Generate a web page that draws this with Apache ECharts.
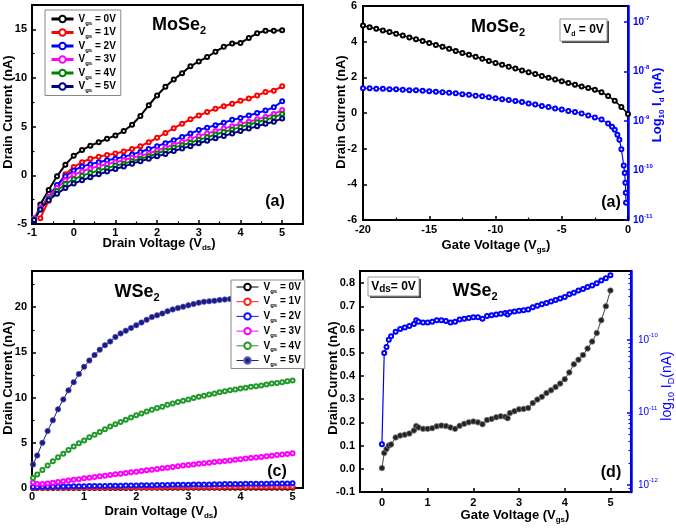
<!DOCTYPE html>
<html><head><meta charset="utf-8">
<script src="https://cdn.jsdelivr.net/npm/echarts@6/dist/echarts.min.js"></script>
<style>html,body{margin:0;padding:0;background:#fff}#c{width:676px;height:528px}</style>
</head><body><div id="c"></div>
<script>
// ---------- DATA ----------
// (a) MoSe2 output curves, Drain Voltage (V) vs Drain Current (nA)
const xA = [-0.95,-0.8,-0.6,-0.4,-0.2,0,0.2,0.4,0.6,0.8,1.0,1.2,1.4,1.6,1.8,2.0,2.2,2.4,2.6,2.8,3.0,3.2,3.4,3.6,3.8,4.0,4.2,4.4,4.6,4.8,5.0];
const aVgs0 = [-4.8,-3.0,-1.5,-0.1,1.1,2.0,2.6,3.05,3.4,3.75,4.1,4.55,5.2,6.1,7.2,8.2,9.1,9.85,10.5,11.2,11.7,12.15,12.7,13.2,13.55,13.6,14.1,14.6,14.85,14.85,14.9];
const aVgs1 = [null,-4.4,-2.6,-1.1,0.1,0.85,1.35,1.7,1.9,2.1,2.25,2.45,2.7,3.0,3.4,3.85,4.35,4.85,5.3,5.75,6.15,6.5,6.85,7.1,7.35,7.65,7.9,8.2,8.55,8.7,9.15];
const aVgs2 = [-4.6,-3.4,-2.2,-1.0,-0.1,0.5,0.9,1.15,1.35,1.55,1.7,1.9,2.15,2.4,2.7,3.0,3.3,3.6,3.95,4.3,4.65,4.9,5.15,5.4,5.7,5.9,6.15,6.4,6.65,7.0,7.6];
const aVgs3 = [-4.4,-3.3,-2.2,-1.3,-0.5,0.05,0.4,0.7,0.95,1.15,1.35,1.55,1.8,2.0,2.25,2.55,2.85,3.15,3.45,3.75,4.05,4.3,4.55,4.8,5.05,5.3,5.5,5.75,6.0,6.3,6.7];
const aVgs4 = [-4.5,-3.5,-2.4,-1.6,-0.9,-0.4,-0.05,0.25,0.5,0.75,1.0,1.2,1.45,1.7,1.95,2.25,2.55,2.85,3.1,3.35,3.65,3.9,4.2,4.45,4.7,4.95,5.2,5.45,5.7,5.95,6.3];
const aVgs5 = [-4.6,-3.5,-2.55,-1.9,-1.3,-0.85,-0.5,-0.2,0.1,0.4,0.65,0.9,1.2,1.45,1.7,1.95,2.2,2.5,2.75,3.0,3.3,3.55,3.8,4.05,4.3,4.55,4.8,5.05,5.3,5.5,5.85];

// (b) MoSe2 transfer, Vd = 0V
const xB = [-20,-19.5,-19,-18.5,-18,-17.5,-17,-16.5,-16,-15.5,-15,-14.5,-14,-13.5,-13,-12.5,-12,-11.5,-11,-10.5,-10,-9.5,-9,-8.5,-8,-7.5,-7,-6.5,-6,-5.5,-5,-4.5,-4,-3.5,-3,-2.5,-2,-1.5,-1,-0.5,0];
const bDrain = [4.90,4.81,4.72,4.63,4.54,4.44,4.34,4.24,4.14,4.04,3.93,3.82,3.71,3.60,3.48,3.37,3.26,3.15,3.04,2.92,2.81,2.70,2.60,2.49,2.39,2.28,2.18,2.08,1.98,1.88,1.78,1.68,1.58,1.49,1.40,1.30,1.16,0.96,0.68,0.34,-0.05];
const xBlog = [-20,-19.5,-19,-18.5,-18,-17.5,-17,-16.5,-16,-15.5,-15,-14.5,-14,-13.5,-13,-12.5,-12,-11.5,-11,-10.5,-10,-9.5,-9,-8.5,-8,-7.5,-7,-6.5,-6,-5.5,-5,-4.5,-4,-3.5,-3,-2.5,-2,-1.5,-1.2,-1.0,-0.8,-0.65,-0.5,-0.32,-0.25,-0.2,-0.17,-0.15];
const bLog10Id = [-8.34,-8.34,-8.35,-8.35,-8.36,-8.36,-8.37,-8.38,-8.38,-8.39,-8.40,-8.41,-8.42,-8.43,-8.44,-8.46,-8.47,-8.49,-8.50,-8.52,-8.54,-8.56,-8.58,-8.60,-8.62,-8.65,-8.67,-8.70,-8.72,-8.75,-8.77,-8.80,-8.82,-8.85,-8.89,-8.93,-8.97,-9.05,-9.12,-9.18,-9.28,-9.38,-9.57,-9.9,-10.05,-10.25,-10.45,-10.65];

// (c) WSe2 output curves
const xC = [0.02,0.1,0.2,0.3,0.4,0.5,0.6,0.7,0.8,0.9,1.0,1.1,1.2,1.3,1.4,1.5,1.6,1.7,1.8,1.9,2.0,2.1,2.2,2.3,2.4,2.5,2.6,2.7,2.8,2.9,3.0,3.1,3.2,3.3,3.4,3.5,3.6,3.7,3.8,3.9,4.0,4.1,4.2,4.3,4.4,4.5,4.6,4.7,4.8,4.9,5.0];
const cVgs0 = [0.01,0.01,0.01,0.01,0.01,0.01,0.01,0.01,0.01,0.01,0.01,0.01,0.01,0.01,0.01,0.01,0.01,0.01,0.01,0.01,0.02,0.02,0.02,0.02,0.02,0.02,0.02,0.02,0.02,0.02,0.02,0.02,0.02,0.02,0.02,0.02,0.02,0.02,0.02,0.02,0.03,0.03,0.03,0.03,0.03,0.03,0.03,0.03,0.03,0.03,0.03];
const cVgs1 = [0.02,0.02,0.02,0.03,0.03,0.03,0.04,0.04,0.04,0.05,0.05,0.05,0.06,0.06,0.06,0.07,0.07,0.07,0.08,0.08,0.08,0.08,0.09,0.09,0.09,0.1,0.1,0.1,0.1,0.11,0.11,0.11,0.11,0.12,0.12,0.12,0.12,0.13,0.13,0.13,0.13,0.13,0.14,0.14,0.14,0.14,0.14,0.15,0.15,0.15,0.15];
const cVgs2 = [0.12,0.12,0.13,0.14,0.15,0.16,0.16,0.17,0.18,0.19,0.2,0.21,0.22,0.22,0.23,0.24,0.25,0.26,0.27,0.28,0.29,0.3,0.3,0.31,0.32,0.33,0.34,0.35,0.35,0.36,0.37,0.38,0.39,0.4,0.4,0.41,0.42,0.43,0.44,0.44,0.45,0.46,0.46,0.47,0.48,0.48,0.49,0.5,0.5,0.51,0.52];
const cVgs3 = [0.6,0.45,0.45,0.5,0.58,0.66,0.74,0.82,0.9,0.98,1.07,1.14,1.21,1.29,1.36,1.44,1.51,1.58,1.66,1.73,1.8,1.88,1.95,2.03,2.1,2.18,2.25,2.33,2.4,2.48,2.55,2.61,2.68,2.74,2.8,2.87,2.93,2.99,3.05,3.12,3.18,3.25,3.31,3.38,3.44,3.51,3.58,3.64,3.71,3.77,3.84];
const cVgs4 = [1.1,1.5,2.0,2.5,2.95,3.4,3.8,4.2,4.6,4.95,5.25,5.6,5.9,6.2,6.5,6.8,7.05,7.3,7.55,7.8,8.05,8.25,8.45,8.65,8.85,9.0,9.2,9.35,9.5,9.65,9.8,9.95,10.1,10.2,10.35,10.45,10.6,10.7,10.8,10.9,11.0,11.1,11.2,11.25,11.35,11.45,11.55,11.6,11.7,11.8,11.9];
const cVgs5 = [2.6,3.6,5.0,6.3,7.5,8.7,9.8,10.8,11.7,12.6,13.4,14.1,14.7,15.3,15.8,16.2,16.7,17.1,17.4,17.7,18.0,18.3,18.6,18.9,19.1,19.3,19.55,19.75,19.9,20.05,20.2,20.35,20.5,20.6,20.65,20.7,20.8,20.85,20.9,20.9,20.95,21.0,21.0,21.05,21.05,21.1,21.1,21.1,21.15,21.15,21.2];

// (d) WSe2 transfer, Vds = 0V
const xD = [0,0.05,0.1,0.15,0.2,0.3,0.4,0.5,0.6,0.7,0.75,0.8,0.9,1.0,1.1,1.2,1.3,1.4,1.5,1.6,1.7,1.8,1.9,2.0,2.1,2.2,2.3,2.4,2.5,2.6,2.7,2.75,2.8,2.9,3.0,3.1,3.2,3.3,3.4,3.5,3.6,3.7,3.8,3.9,4.0,4.1,4.2,4.3,4.4,4.5,4.6,4.7,4.8,4.9,5.0];
const dDrain = [0.003,0.068,0.085,0.1,0.105,0.135,0.143,0.147,0.152,0.165,0.184,0.178,0.172,0.172,0.175,0.183,0.186,0.184,0.178,0.172,0.185,0.194,0.2,0.204,0.2,0.192,0.21,0.215,0.222,0.226,0.224,0.218,0.24,0.248,0.256,0.258,0.262,0.283,0.298,0.31,0.326,0.338,0.352,0.367,0.386,0.415,0.45,0.47,0.49,0.518,0.548,0.585,0.64,0.7,0.768];
const dLog10Id = [-11.44,-10.18,-10.1,-10.0,-9.95,-9.89,-9.85,-9.83,-9.81,-9.78,-9.73,-9.75,-9.76,-9.76,-9.75,-9.73,-9.73,-9.74,-9.76,-9.75,-9.72,-9.71,-9.7,-9.69,-9.69,-9.71,-9.67,-9.66,-9.65,-9.64,-9.63,-9.65,-9.62,-9.61,-9.6,-9.59,-9.58,-9.55,-9.53,-9.51,-9.49,-9.47,-9.45,-9.43,-9.41,-9.37,-9.35,-9.32,-9.3,-9.27,-9.25,-9.22,-9.18,-9.15,-9.11];

// tick labels
const ticksAx = [-1,0,1,2,3,4,5], ticksAy = [-5,0,5,10,15];
const ticksBx = [-20,-15,-10,-5,0], ticksBy = [-6,-4,-2,0,2,4,6], ticksBlog = [-11,-10,-9,-8,-7];
const ticksCx = [0,1,2,3,4,5], ticksCy = [0,5,10,15,20];
const ticksDx = [0,1,2,3,4,5], ticksDy = [-0.1,0,0.1,0.2,0.3,0.4,0.5,0.6,0.7,0.8], ticksDlog = [-12,-11,-10];
const vgsLabels = ['0V','1V','2V','3V','4V','5V'];

// ---------- CHART ----------
const F = "'Liberation Sans', Arial, Helvetica, sans-serif";
const BLUE = '#0000ff';
function rs(size, color, weight, subSize) {
  weight = weight || 'bold';
  const sub = subSize || Math.round(size * 0.62);
  const base = {fontFamily: F, fontWeight: weight, color: color, fill: color};
  return {
    m: Object.assign({}, base, {fontSize: size, lineHeight: size + 4, verticalAlign: 'middle'}),
    s: Object.assign({}, base, {fontSize: sub, lineHeight: sub, verticalAlign: 'bottom'}),
    p: Object.assign({}, base, {fontSize: sub, lineHeight: sub, verticalAlign: 'top'})
  };
}
function T(x, y, text, size, o) {
  o = o || {};
  const color = o.color || '#000';
  return {type: 'text', x: x, y: y, rotation: o.rot ? Math.PI / 2 : 0, z: 100,
    style: {text: text, rich: rs(size, color, o.weight, o.sub), align: 'center', verticalAlign: 'middle',
      fill: color, fontFamily: F, fontSize: size, fontWeight: o.weight || 'bold'}};
}
function mainAxis(o) {
  const color = o.color || '#000';
  return {
    type: 'value', gridIndex: o.g, min: o.min, max: o.max, position: o.pos,
    axisLine: {show: true, onZero: false, lineStyle: {color: color, width: o.lw || 2}},
    axisTick: {show: true, inside: true, length: 4, lineStyle: {color: color, width: 1.5}, customValues: o.ticks},
    axisLabel: {show: true, customValues: o.ticks, margin: o.margin == null ? 5 : o.margin, color: color,
      fontFamily: F, fontWeight: o.weight || 'bold', fontSize: o.fs || 11, formatter: o.fmt, rich: o.rich},
    splitLine: {show: false}
  };
}
function minorAxis(g, min, max, ticks, pos, color) {
  return {type: 'value', gridIndex: g, min: min, max: max, position: pos,
    axisLine: {show: false, onZero: false},
    axisTick: {show: true, inside: true, length: 2.5, lineStyle: {color: color || '#000', width: 1.2}, customValues: ticks},
    axisLabel: {show: false}, splitLine: {show: false}};
}
function ser(name, xs, ys, xi, yi, color, o) {
  o = o || {};
  const data = [];
  xs.forEach(function (x, i) { if (ys[i] != null) data.push([x, ys[i]]); });
  return {name: name, type: 'line', xAxisIndex: xi, yAxisIndex: yi, data: data,
    symbol: o.symbol || 'emptyCircle', symbolSize: o.size || 4, showSymbol: true, showAllSymbol: true,
    lineStyle: {color: color, width: o.lw || 1.2},
    itemStyle: {color: o.fill || color, borderColor: o.border || color, borderWidth: o.bw || 1.2},
    emphasis: {disabled: true}, animation: false, z: o.z || 2};
}

const logMinor = [];
for (let n = -13; n <= -9; n++) for (let k = 2; k <= 9; k++) {
  const v = n + Math.log10(k);
  if (v > -12.1 && v < -9.05) logMinor.push(v);
}
const logFmt = function (v) { return '{m|10}{p|' + v + '}'; };

const legendFmt = function (name) { return '{m|V}{s|gs}{m| = ' + vgsLabels[+name.slice(1)] + '}'; };

const colorsA = ['#000000', '#ff0000', '#0000ff', '#ff00ff', '#008000', '#000080'];
const colorsC = ['#000000', '#ff2020', '#1010ff', '#ff00ff', '#22992a', '#1a1a88'];
const aSets = [aVgs0, aVgs1, aVgs2, aVgs3, aVgs4, aVgs5];
const cSets = [cVgs0, cVgs1, cVgs2, cVgs3, cVgs4, cVgs5];

const series = [];
aSets.forEach(function (ys, i) { series.push(ser('a' + i, xA, ys, 0, 0, colorsA[i], {size: 4, lw: 2})); });
series.push(ser('bI', xB, bDrain, 2, 2, '#000', {size: 4, lw: 1.5}));
series.push(ser('bLog', xBlog, bLog10Id, 2, 3, BLUE, {size: 4, lw: 1.2}));
cSets.forEach(function (ys, i) {
  if (i === 5) series.push(ser('c' + i, xC, ys, 4, 4, colorsC[i], {symbol: 'circle', size: 5.5, lw: 1, border: '#5a5ab0', bw: 0.6}));
  else series.push(ser('c' + i, xC, ys, 4, 4, colorsC[i], {size: 4, lw: 1.2}));
});
series.push(ser('dLog', xD, dLog10Id, 6, 7, BLUE, {size: 4, lw: 1.2}));
series.push(ser('dI', xD, dDrain, 6, 6, '#111', {symbol: 'circle', size: 5.5, lw: 0.8, fill: '#222', border: '#777', bw: 0.8}));

const option = {
  backgroundColor: '#fff',
  animation: false,
  grid: [
    {left: 32, top: 5, width: 271, height: 219, show: true, borderColor: '#000', borderWidth: 2},
    {left: 363, top: 6, width: 265, height: 214, show: true, borderColor: '#000', borderWidth: 2},
    {left: 32, top: 271, width: 271, height: 217, show: true, borderColor: '#000', borderWidth: 2},
    {left: 360, top: 271, width: 271, height: 221, show: true, borderColor: '#000', borderWidth: 2}
  ],
  xAxis: [
    mainAxis({g: 0, min: -1, max: 5.5, ticks: ticksAx, pos: 'bottom', margin: 3}),
    minorAxis(0, -1, 5.5, [-0.5, 0.5, 1.5, 2.5, 3.5, 4.5], 'bottom'),
    mainAxis({g: 1, min: -20, max: 0, ticks: ticksBx, pos: 'bottom', margin: 4}),
    minorAxis(1, -20, 0, [-17.5, -12.5, -7.5, -2.5], 'bottom'),
    mainAxis({g: 2, min: 0, max: 5.2, ticks: ticksCx, pos: 'bottom', margin: 3}),
    minorAxis(2, 0, 5.2, [0.5, 1.5, 2.5, 3.5, 4.5], 'bottom'),
    mainAxis({g: 3, min: -0.48, max: 5.45, ticks: ticksDx, pos: 'bottom', margin: 5})
  ],
  yAxis: [
    mainAxis({g: 0, min: -5, max: 17.5, ticks: ticksAy, pos: 'left', margin: 5}),
    minorAxis(0, -5, 17.5, [-2.5, 2.5, 7.5, 12.5], 'left'),
    mainAxis({g: 1, min: -6, max: 6, ticks: ticksBy, pos: 'left', margin: 6}),
    mainAxis({g: 1, min: -11, max: -6.68, ticks: ticksBlog, pos: 'right', color: BLUE, lw: 2.5, margin: 5,
      fmt: logFmt, rich: rs(10, BLUE, 'bold')}),
    mainAxis({g: 2, min: 0, max: 24, ticks: ticksCy, pos: 'left', margin: 5}),
    minorAxis(2, 0, 24, [2.5, 7.5, 12.5, 17.5, 22.5], 'left'),
    mainAxis({g: 3, min: -0.1, max: 0.852, ticks: ticksDy, pos: 'left', margin: 5,
      fmt: function (v) { return v.toFixed(1); }}),
    mainAxis({g: 3, min: -12.1, max: -9.05, ticks: ticksDlog, pos: 'right', color: BLUE, lw: 2.5, margin: 7,
      fmt: logFmt, rich: rs(10, BLUE, 'normal'), weight: 'normal'}),
    minorAxis(3, -12.1, -9.05, logMinor, 'right', BLUE)
  ],
  legend: [
    {orient: 'vertical', left: 45, top: 10, padding: [4, 5, 2, 5], itemGap: 1.5, itemWidth: 22, itemHeight: 8,
      backgroundColor: '#fff', borderColor: '#888', borderWidth: 1, selectedMode: false,
      data: ['a0', 'a1', 'a2', 'a3', 'a4', 'a5'], formatter: legendFmt,
      lineStyle: {width: 3}, textStyle: {fontFamily: F, fontWeight: 'bold', fontSize: 10, rich: rs(10, '#000', 'bold')}},
    {orient: 'vertical', left: 231, top: 280, padding: [2, 4, 1, 5], itemGap: 2.7, itemWidth: 22, itemHeight: 8,
      backgroundColor: '#fff', borderColor: '#888', borderWidth: 1, selectedMode: false,
      data: ['c0', 'c1', 'c2', 'c3', 'c4', 'c5'], formatter: legendFmt,
      lineStyle: {width: 1}, textStyle: {fontFamily: F, fontWeight: 'bold', fontSize: 10, rich: rs(10, '#000', 'bold')}}
  ],
  graphic: [
    // (a)
    T(179, 25, '{m|MoSe}{s|2}', 18),
    T(275, 202, '{m|(a)}', 16),
    T(159, 243, '{m|Drain Voltage (V}{s|ds}{m|)}', 13),
    T(8, 112, '{m|Drain Current (nA)}', 13, {rot: true}),
    // (b)
    T(498, 27, '{m|MoSe}{s|2}', 18),
    {type: 'rect', z: 99, shape: {x: 562, y: 21, width: 47, height: 22}, style: {fill: '#444'}},
    {type: 'rect', z: 99, shape: {x: 560, y: 19, width: 47, height: 22}, style: {fill: '#fff', stroke: '#999', lineWidth: 1}},
    T(583.5, 30, '{m|V}{s|d}{m| = 0V}', 12),
    T(611, 203, '{m|(a)}', 16),
    T(496, 245, '{m|Gate Voltage (V}{s|gs}{m|)}', 13),
    T(341, 112, '{m|Drain Current (nA)}', 13, {rot: true}),
    T(657, 105, '{m|Log}{s|10}{m| I}{s|d}{m| (nA)}', 13, {rot: true, color: BLUE}),
    // (c)
    T(137, 292, '{m|WSe}{s|2}', 18),
    T(277, 472, '{m|(c)}', 16),
    T(161, 511, '{m|Drain Voltage (V}{s|ds}{m|)}', 13),
    T(8, 378, '{m|Drain Current (nA)}', 13, {rot: true}),
    // (d)
    T(475, 291, '{m|WSe}{s|2}', 18),
    {type: 'rect', z: 99, shape: {x: 370, y: 279, width: 51, height: 19}, style: {fill: '#444'}},
    {type: 'rect', z: 99, shape: {x: 368, y: 277, width: 51, height: 19}, style: {fill: '#fff', stroke: '#999', lineWidth: 1}},
    T(393.5, 286.5, '{m|V}{s|ds}{m|= 0V}', 12, {sub: 10}),
    T(611, 473, '{m|(d)}', 16),
    T(515, 515, '{m|Gate Voltage (V}{s|gs}{m|)}', 13),
    T(333, 378, '{m|Drain Current (nA)}', 13, {rot: true}),
    T(667, 386, '{m|log}{s|10}{m| I}{s|D}{m|(nA)}', 14, {rot: true, color: BLUE, weight: 'normal'})
  ],
  series: series
};
const chart = echarts.init(document.getElementById('c'), null, {renderer: 'canvas'});
chart.setOption(option);
</script></body></html>
